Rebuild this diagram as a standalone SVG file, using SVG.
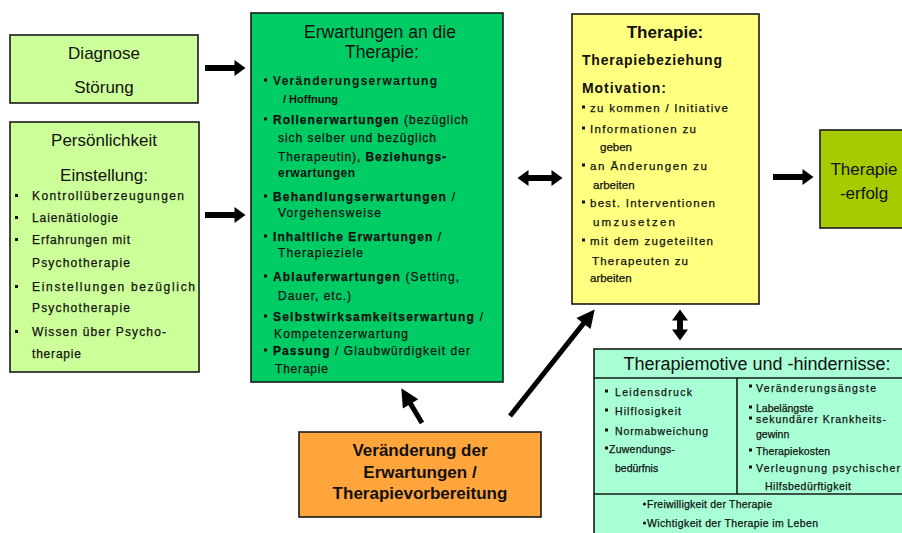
<svg xmlns="http://www.w3.org/2000/svg" width="902" height="533" viewBox="0 0 902 533">
<defs>
<style>
text{font-family:"Liberation Sans",Arial,Helvetica,sans-serif;fill:#111}
.box{stroke:#1a1a1a;stroke-width:1.6}
.lg{fill:#ccff99}
.gr{fill:#00cc66}
.ye{fill:#ffff80}
.or{fill:#ffa53c}
.mi{fill:#a8ffd6}
.ol{fill:#a6cc00}
.line{stroke:#1a1a1a;stroke-width:1.6;fill:none}
.h17{font-size:17px}
.h175{font-size:17.5px}
.h18{font-size:18px}
.c{text-anchor:middle}
.b{font-weight:bold}
.s12{font-size:12px}
.s11{font-size:11px}
.s115{font-size:11.5px}
.s105{font-size:10.5px}
.s14{font-size:14px;font-weight:bold}
.m{stroke:#111;stroke-width:0.25}
.bu{fill:#111}
.arr{stroke:#000;stroke-width:6;fill:none}
.dia{stroke:#000;stroke-width:5;fill:none}
</style>
<marker id="bh" markerUnits="userSpaceOnUse" markerWidth="12" markerHeight="16" refX="0.5" refY="8" orient="auto-start-reverse" overflow="visible"><path d="M0,0 L11,8 L0,16 z" fill="#000"/></marker>
<marker id="dh" markerUnits="userSpaceOnUse" markerWidth="18" markerHeight="18" refX="0.5" refY="9" orient="auto" overflow="visible"><path d="M0,0 L18,9 L0,18 z" fill="#000"/></marker>
</defs>
<rect width="902" height="533" fill="#ffffff"/>

<g id="diagnose">
<rect class="box lg" x="10" y="35" width="188" height="68"/>
<text class="h17 c" x="104" y="59">Diagnose</text>
<text class="h17 c" x="104" y="93">Störung</text>
</g>

<g id="persoenlichkeit">
<rect class="box lg" x="10" y="122" width="189" height="250"/>
<text class="h17 c" x="104" y="146">Persönlichkeit</text>
<text class="h17 c" x="104" y="181">Einstellung:</text>
<rect class="bu" x="15" y="194" width="3" height="3"/>
<rect class="bu" x="15" y="216" width="3" height="3"/>
<rect class="bu" x="15" y="238" width="3" height="3"/>
<rect class="bu" x="15" y="285" width="3" height="3"/>
<rect class="bu" x="15" y="330" width="3" height="3"/>
<text class="s12 m" x="32" y="200" textLength="152">Kontrollüberzeugungen</text>
<text class="s12 m" x="32" y="222" textLength="86">Laienätiologie</text>
<text class="s12 m" x="32" y="244" textLength="98">Erfahrungen mit</text>
<text class="s12 m" x="32" y="267" textLength="98">Psychotherapie</text>
<text class="s12 m" x="32" y="291" textLength="163">Einstellungen bezüglich</text>
<text class="s12 m" x="32" y="312" textLength="98">Psychotherapie</text>
<text class="s12 m" x="32" y="336" textLength="134">Wissen über Psycho-</text>
<text class="s12 m" x="32" y="358" textLength="49">therapie</text>
</g>

<g id="erwartungen">
<rect class="box gr" x="251" y="13" width="252" height="369"/>
<text class="h175 c" x="380" y="38">Erwartungen an die</text>
<text class="h175 c" x="382" y="57.5">Therapie:</text>
<rect class="bu" x="264" y="78.5" width="3" height="3"/>
<rect class="bu" x="264" y="117.5" width="3" height="3"/>
<rect class="bu" x="264" y="194.5" width="3" height="3"/>
<rect class="bu" x="264" y="234.5" width="3" height="3"/>
<rect class="bu" x="264" y="274.5" width="3" height="3"/>
<rect class="bu" x="264" y="314.5" width="3" height="3"/>
<rect class="bu" x="264" y="348.5" width="3" height="3"/>
<text class="s12 b" x="273" y="85" textLength="164">Veränderungserwartung</text>
<text class="s11 b" x="283" y="103">/ Hoffnung</text>
<text class="s12 m" x="273" y="124" textLength="195"><tspan class="b">Rollenerwartungen</tspan> (bezüglich</text>
<text class="s12 m" x="278" y="142" textLength="158">sich selber und bezüglich</text>
<text class="s12 m" x="278" y="161" textLength="168">Therapeutin), <tspan class="b">Beziehungs-</tspan></text>
<text class="s12 b" x="278" y="177" textLength="77">erwartungen</text>
<text class="s12 m" x="273" y="201" textLength="182"><tspan class="b">Behandlungserwartungen</tspan> /</text>
<text class="s12 m" x="278" y="217" textLength="103">Vorgehensweise</text>
<text class="s12 m" x="273" y="241" textLength="168"><tspan class="b">Inhaltliche Erwartungen</tspan> /</text>
<text class="s12 m" x="278" y="257" textLength="85">Therapieziele</text>
<text class="s12 m" x="273" y="281" textLength="186"><tspan class="b">Ablauferwartungen</tspan> (Setting,</text>
<text class="s12 m" x="278" y="300" textLength="73">Dauer, etc.)</text>
<text class="s12 m" x="273" y="321" textLength="210"><tspan class="b">Selbstwirksamkeitserwartung</tspan> /</text>
<text class="s12 m" x="274" y="338" textLength="134">Kompetenzerwartung</text>
<text class="s12 m" x="273" y="355" textLength="197"><tspan class="b">Passung</tspan> / Glaubwürdigkeit der</text>
<text class="s12 m" x="275" y="373" textLength="53">Therapie</text>
</g>

<g id="therapie">
<rect class="box ye" x="572" y="14" width="187" height="290"/>
<text class="h17 b c" x="665" y="38">Therapie:</text>
<text class="s14" x="582" y="65" textLength="140">Therapiebeziehung</text>
<text class="s14" x="582" y="93" textLength="84">Motivation:</text>
<rect class="bu" x="582" y="105.5" width="3" height="3"/>
<rect class="bu" x="582" y="126.5" width="3" height="3"/>
<rect class="bu" x="582" y="163.5" width="3" height="3"/>
<rect class="bu" x="582" y="200.5" width="3" height="3"/>
<rect class="bu" x="582" y="238.5" width="3" height="3"/>
<text class="s115 m" x="590" y="112" textLength="138">zu kommen / Initiative</text>
<text class="s115 m" x="590" y="133" textLength="106">Informationen zu</text>
<text class="s115 m" x="600" y="151">geben</text>
<text class="s115 m" x="590" y="170" textLength="117">an Änderungen zu</text>
<text class="s115 m" x="593" y="189">arbeiten</text>
<text class="s115 m" x="590" y="207" textLength="125">best. Interventionen</text>
<text class="s115 m" x="593" y="226" textLength="82">umzusetzen</text>
<text class="s115 m" x="590" y="245" textLength="123">mit dem zugeteilten</text>
<text class="s115 m" x="592" y="265" textLength="96">Therapeuten zu</text>
<text class="s115 m" x="590" y="282">arbeiten</text>
</g>

<g id="therapieerfolg">
<rect class="box ol" x="820" y="130" width="100" height="98"/>
<text class="h17 c" x="864" y="175">Therapie</text>
<text class="h17 c" x="864" y="199">-erfolg</text>
</g>

<g id="motive">
<rect class="box mi" x="594" y="349" width="330" height="200"/>
<line class="line" x1="594" y1="378" x2="910" y2="378"/>
<line class="line" x1="737" y1="378" x2="737" y2="494"/>
<line class="line" x1="594" y1="494" x2="910" y2="494"/>
<text class="h18 c" x="757" y="370">Therapiemotive und -hindernisse:</text>
<rect class="bu" x="605" y="389.5" width="3" height="3"/>
<rect class="bu" x="605" y="408.5" width="3" height="3"/>
<rect class="bu" x="605" y="428.5" width="3" height="3"/>
<rect class="bu" x="605" y="446.5" width="3" height="3"/>
<text class="s105 m" x="615" y="396" textLength="77">Leidensdruck</text>
<text class="s105 m" x="615" y="415" textLength="66">Hilflosigkeit</text>
<text class="s105 m" x="615" y="435" textLength="93">Normabweichung</text>
<text class="s105 m" x="609" y="453" textLength="66">Zuwendungs-</text>
<text class="s105 m" x="615" y="472">bedürfnis</text>
<rect class="bu" x="749" y="384.5" width="3" height="3"/>
<rect class="bu" x="749" y="405.5" width="3" height="3"/>
<rect class="bu" x="749" y="416.5" width="3" height="3"/>
<rect class="bu" x="749" y="448.5" width="3" height="3"/>
<rect class="bu" x="749" y="465.5" width="3" height="3"/>
<text class="s105 m" x="756" y="392" textLength="120">Veränderungsängste</text>
<text class="s105 m" x="756" y="412">Labelängste</text>
<text class="s105 m" x="756" y="423" textLength="130">sekundärer Krankheits-</text>
<text class="s105 m" x="756" y="438">gewinn</text>
<text class="s105 m" x="756" y="455" textLength="74">Therapiekosten</text>
<text class="s105 m" x="756" y="472" textLength="144">Verleugnung psychischer</text>
<text class="s105 m" x="765" y="490" textLength="86">Hilfsbedürftigkeit</text>
<circle class="bu" cx="644.5" cy="504" r="1.6"/>
<circle class="bu" cx="644.5" cy="523" r="1.6"/>
<text class="s105 m" x="647" y="508" textLength="125">Freiwilligkeit der Therapie</text>
<text class="s105 m" x="647" y="527" textLength="171">Wichtigkeit der Therapie im Leben</text>
</g>

<g id="veraenderung">
<rect class="box or" x="299" y="432" width="242" height="85"/>
<text class="h17 b c" x="420" y="456">Veränderung der</text>
<text class="h17 b c" x="420" y="478">Erwartungen /</text>
<text class="h17 b c" x="420" y="499">Therapievorbereitung</text>
</g>

<g id="connectors">
<line class="arr" x1="205" y1="68" x2="235" y2="68" marker-end="url(#bh)"/>
<line class="arr" x1="205" y1="215" x2="235" y2="215" marker-end="url(#bh)"/>
<line class="arr" x1="528" y1="178" x2="552" y2="178" marker-start="url(#bh)" marker-end="url(#bh)"/>
<line class="arr" x1="773" y1="177" x2="803" y2="177" marker-end="url(#bh)"/>
<line class="arr" x1="680" y1="320" x2="680" y2="330" marker-start="url(#bh)" marker-end="url(#bh)"/>
<line class="dia" x1="510" y1="416" x2="583.8" y2="323.1" marker-end="url(#dh)"/>
<line class="dia" x1="422" y1="423" x2="410.3" y2="403.4" marker-end="url(#dh)"/>
</g>
</svg>
